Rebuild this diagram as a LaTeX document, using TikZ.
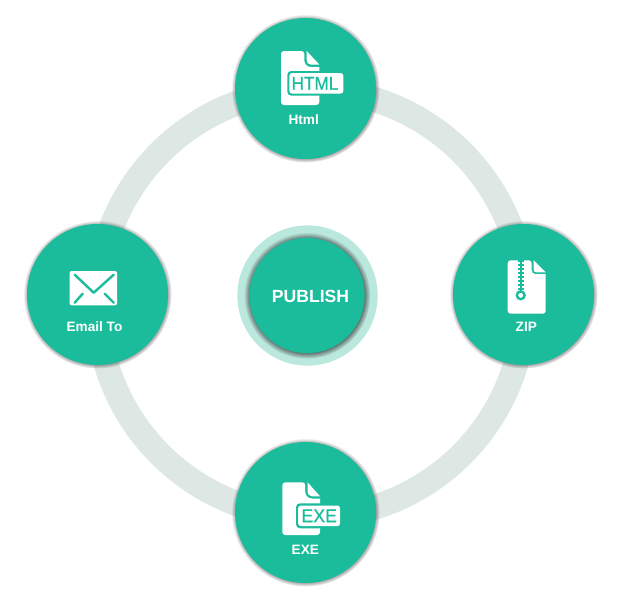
\documentclass[tikz,border=0pt]{standalone}
\usepackage{fontspec}
\setmainfont{Liberation Sans}
\newfontfamily\tagfont[FakeBold=0.7]{Liberation Sans}
\usetikzlibrary{shadows,fadings}
\definecolor{teal}{HTML}{1ABC9C}
\definecolor{ringgrey}{HTML}{DDE8E5}
\definecolor{ringmint}{HTML}{BAE8DD}
\tikzset{
  disc/.style={circle,fill=teal,minimum size=105.75pt,inner sep=0pt,
    circular drop shadow={shadow xshift=0pt,shadow yshift=0pt,shadow scale=1.05,fill=black!90}},
  hubdisc/.style={circle,fill=teal,minimum size=86.5pt,inner sep=0pt,
    circular drop shadow={shadow xshift=0pt,shadow yshift=0pt,shadow scale=1.095,fill=black!80}},
  caption/.style={text=white,font=\bfseries\fontsize{10.2}{12}\selectfont,inner sep=0pt},
  tagtext/.style={text=teal,font=\tagfont\fontsize{14}{16}\selectfont,inner sep=0pt},
  iconpart/.style={fill=white,draw=none},
  tagedge/.style={fill=teal,draw=none,rounded corners=3pt},
  tagface/.style={fill=white,draw=none,rounded corners=2pt},
  mailline/.style={draw=teal,line width=1.8pt,line cap=round,line join=round}
}
\begin{document}
\begin{tikzpicture}[x=0.75pt,y=-0.75pt]
  \useasboundingbox[fill=white] (0,0) rectangle (628,608);
  \coordinate (loop) at (311,303.4);
  \draw[ringgrey,line width=18.75pt] (loop) circle (160.1pt);

  \node[disc] (html) at (305.5,88.5) {};
  \node[disc] (zip) at (523.5,294.5) {};
  \node[disc] (exe) at (305.5,512.5) {};
  \node[disc] (email) at (97.5,294.5) {};

  \fill[ringmint] (307.5,295.5) circle (52.6pt);
  \node[hubdisc] (hub) at (307,295.5) {};
  \node[caption,font=\bfseries\fontsize{13.2}{15}\selectfont] (publish) at (310.5,296.8) {PUBLISH};

  % html icon
  \path[iconpart,rounded corners=2.2pt] (281,51) -- (304.3,51) [sharp corners] -- (304.3,60) .. controls (304.3,64) and (307,67) .. (311,67) -- (319.3,67) [rounded corners=2.2pt] -- (319.3,105) -- (281,105) -- cycle;
  \path[iconpart] (306.7,51) -- (319.3,64.6) -- (311,64.6) .. controls (308,64.6) and (306.7,62.5) .. (306.7,60) -- cycle;
  \path[tagedge] (287.3,71) rectangle (345,95.7);
  \path[tagface] (289.4,73) rectangle (343.3,93.6);
  \node[tagtext,xscale=.92] (htmltag) at (315,83.3) {HTML};
  \node[caption] (htmlcap) at (303.7,119.6) {Html};

  % zip icon
  \path[iconpart,rounded corners=2.2pt] (507.7,260.3) -- (531.7,260.3) [sharp corners] -- (531.7,270) .. controls (531.7,272.5) and (533,274.2) .. (536,274.2) -- (545.7,274.2) [rounded corners=2.2pt] -- (545.7,313.7) -- (507.7,313.7) -- cycle;
  \path[iconpart] (533.6,260.3) -- (545.7,272.4) -- (536.5,272.4) .. controls (534.6,272.4) and (533.6,271) .. (533.6,269.5) -- cycle;
  \draw[teal,line width=1.6pt] (520.7,260.3) -- (520.7,291);
  \draw[teal,line width=4.6pt,dash pattern=on 1.6pt off 1.4pt] (520.7,260.3) -- (520.7,290);
  \draw[teal,line width=1.8pt,fill=white] (520.7,295.3) circle (2.9pt);
  \node[caption] (zipcap) at (526.3,327) {ZIP};

  % exe icon
  \path[iconpart,rounded corners=2.2pt] (282.3,482.3) -- (305.2,482.3) [sharp corners] -- (305.2,491.5) .. controls (305.2,495.5) and (308,498.5) .. (312,498.5) -- (320,498.5) [rounded corners=2.2pt] -- (320,535) -- (282.3,535) -- cycle;
  \path[iconpart] (307.6,482.3) -- (320,496.3) -- (312,496.3) .. controls (309,496.3) and (307.6,494) .. (307.6,491.5) -- cycle;
  \path[tagedge] (296,503.3) rectangle (342,528.3);
  \path[tagface] (298.2,505.5) rectangle (340,526.1);
  \node[tagtext,xscale=.95] (exetag) at (319.2,515.8) {EXE};
  \node[caption] (execap) at (305.3,549.7) {EXE};

  % email icon
  \path[iconpart,rounded corners=1.5pt] (69.7,271) rectangle (117,305.3);
  \draw[mailline] (74.7,274.7) -- (93.7,292.7) -- (113.7,274.7);
  \draw[mailline] (82.7,293.7) -- (74.7,302.7);
  \draw[mailline] (104.7,293.7) -- (113.7,302.7);
  \node[caption] (emailcap) at (94.5,326.5) {Email To};
\end{tikzpicture}
\end{document}
